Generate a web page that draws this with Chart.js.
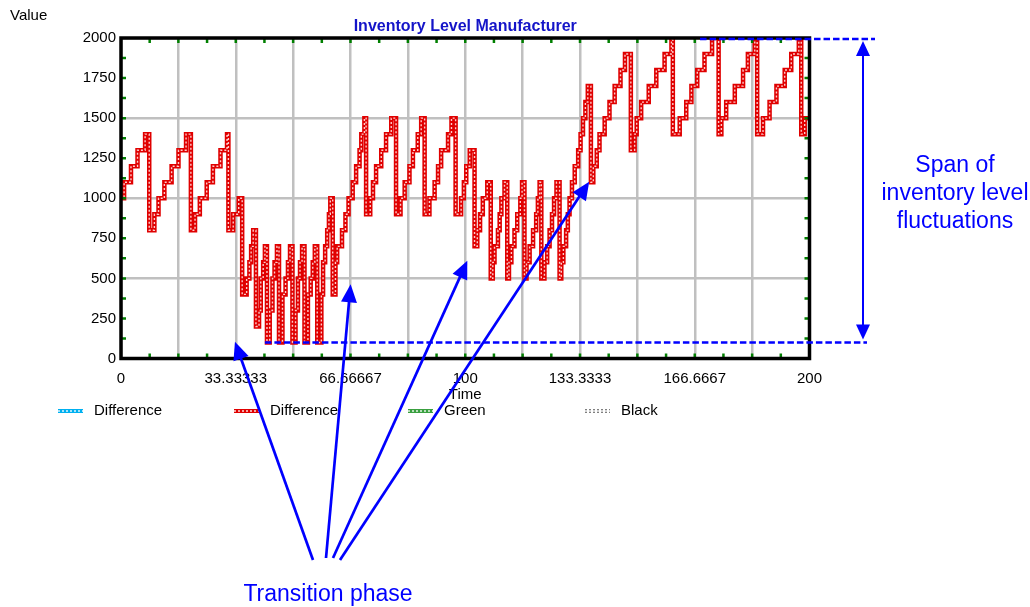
<!DOCTYPE html>
<html>
<head>
<meta charset="utf-8">
<script src="https://cdn.jsdelivr.net/npm/chart.js@4.4.1/dist/chart.umd.min.js"></script>
<style>
  html, body { margin: 0; padding: 0; background: #fff; }
</style>
</head>
<body>
<canvas id="myChart" width="1030" height="607"></canvas>
<script>
// time at which the inventory level steps to the new value
const time = [
  0, 0.9, 2.9, 4.8, 7.0, 8.2, 9.7, 10.9, 12.6, 14.7, 16.7, 18.9, 20.3, 21.5, 22.9, 24.9, 26.7, 28.9, 30.8, 31.2,
  32.6, 34.2, 35.2, 36.5, 37.3, 37.8, 38.4, 39.2, 40.1, 40.6, 41.3, 41.8, 42.4, 43.2, 44.0, 44.6, 45.3, 45.9,
  46.9, 47.8, 48.5, 49.1, 49.8, 50.7, 51.4, 52.0, 52.6, 53.3, 54.3, 55.1, 55.7, 56.3, 57.0, 58.2, 58.7, 59.3,
  59.9, 60.4, 60.8, 61.5, 62.3, 62.8, 64.2, 65.2, 66.1, 67.3, 68.3, 69.3, 69.8, 70.7, 71.2, 72.4, 73.2, 74.1,
  75.6, 77.0, 78.5, 79.9, 81.2, 82.4, 83.8, 84.8, 86.2, 87.2, 88.2, 89.6, 91.1, 92.1, 93.0, 95.0, 96.0, 97.2,
  98.8, 99.6, 100.3, 101.3, 102.7, 103.5, 104.3, 105.1, 106.4, 107.4, 108.0, 108.5, 109.5, 110.0, 110.5, 111.4,
  112.2, 112.7, 113.4, 114.3, 115.1, 116.0, 116.5, 117.2, 117.8, 118.7, 119.7, 120.6, 121.1, 121.6, 122.1,
  123.0, 123.8, 124.5, 125.2, 125.8, 126.5, 127.4, 127.9, 128.5, 129.3, 129.8, 130.3, 131.0, 131.8, 132.8,
  133.5, 134.2, 134.9, 135.6, 136.5, 137.2, 138.2, 139.0, 140.5, 141.9, 143.4, 145.1, 146.4, 148.1, 149.2,
  149.8, 151.1, 153.3, 155.5, 157.9, 159.9, 160.3, 162.3, 164.2, 165.7, 167.4, 169.5, 171.7, 173.6, 174.4,
  175.8, 178.3, 180.7, 182.1, 184.1, 184.8, 186.5, 188.4, 190.4, 192.8, 194.7, 196.9, 197.6, 198.6, 200
];
const inventory = [
  1000, 1100, 1200, 1300, 1400, 800, 900, 1000, 1100, 1200, 1300, 1400, 800, 900, 1000, 1100, 1200, 1300, 1400, 800,
  900, 1000, 400, 500, 600, 700, 800, 200, 300, 500, 600, 700, 100, 300, 500, 600, 700, 100,
  400, 500, 600, 700, 100, 300, 500, 600, 700, 100, 400, 500, 600, 700, 100, 400, 600, 700,
  800, 900, 1000, 400, 600, 700, 800, 900, 1000, 1100, 1200, 1300, 1400, 1500, 900, 1000, 1100, 1200,
  1300, 1400, 1500, 900, 1000, 1100, 1200, 1300, 1400, 1500, 900, 1000, 1100, 1200, 1300, 1400, 1500, 900,
  1000, 1100, 1200, 1300, 700, 800, 900, 1000, 1100, 500, 600, 700, 800, 900, 1000, 1100,
  500, 600, 700, 800, 900, 1000, 1100, 500, 600, 700, 800, 900, 1000, 1100, 500,
  600, 700, 800, 900, 1000, 1100, 500, 600, 700, 800, 900, 1000, 1100, 1200, 1300,
  1400, 1500, 1600, 1700, 1100, 1200, 1300, 1400, 1500, 1600, 1700, 1800, 1900, 1300, 1400,
  1500, 1600, 1700, 1800, 1900, 2000, 1400, 1500, 1600, 1700, 1800, 1900, 2000, 1400, 1500,
  1600, 1700, 1800, 1900, 2000, 1400, 1500, 1600, 1700, 1800, 1900, 2000, 1400, 1500, 1500
];

const xTickLabels = ['0', '33.33333', '66.66667', '100', '133.3333', '166.6667', '200'];
const yTickValues = [0, 250, 500, 750, 1000, 1250, 1500, 1750, 2000];

const legendNames = ['Difference', 'Difference', 'Green', 'Black'];
const legendColors = ['#00b0f0', '#e00000', '#3aa040', '#808080'];

// annotation: arrow tips in chart values [time, value], tails in pixels
const arrowTips = [[33.1, 105], [66.7, 463], [100.6, 610], [136.0, 1103]];
const arrowTails = [[313, 560], [326, 558], [333, 558], [340, 560]];
const spanLow = 100;
const spanHigh = 2000;

const FONT = '"Liberation Sans", Arial, sans-serif';
const BLUE = '#0000ff';

let points = [];
for (let i = 0; i < time.length; i++) {
  points.push({ x: time[i], y: inventory[i] });
}

function arrowHead(c, x1, y1, x2, y2, len, half) {
  let a = Math.atan2(y2 - y1, x2 - x1);
  c.beginPath();
  c.moveTo(x2, y2);
  c.lineTo(x2 - len * Math.cos(a) + half * Math.sin(a), y2 - len * Math.sin(a) - half * Math.cos(a));
  c.lineTo(x2 - len * Math.cos(a) - half * Math.sin(a), y2 - len * Math.sin(a) + half * Math.cos(a));
  c.closePath();
  c.fill();
}

function arrowLine(c, x1, y1, x2, y2, len, half) {
  let a = Math.atan2(y2 - y1, x2 - x1);
  c.beginPath();
  c.moveTo(x1, y1);
  c.lineTo(x2 - (len - 2) * Math.cos(a), y2 - (len - 2) * Math.sin(a));
  c.stroke();
  arrowHead(c, x1, y1, x2, y2, len, half);
}

const decor = {
  id: 'decor',
  afterDatasetsDraw(chart) {
    const c = chart.ctx;
    const a = chart.chartArea;
    const sx = chart.scales.x;
    const sy = chart.scales.y;
    c.save();
    // green minor ticks
    c.strokeStyle = '#008000';
    c.lineWidth = 2.5;
    c.beginPath();
    for (let k = 1; k < 24; k++) {
      let px = sx.getPixelForValue(k * 200 / 24);
      c.moveTo(px, a.top); c.lineTo(px, a.top + 5);
      c.moveTo(px, a.bottom); c.lineTo(px, a.bottom - 5);
    }
    for (let k = 1; k < 16; k++) {
      let py = sy.getPixelForValue(k * 125);
      c.moveTo(a.left, py); c.lineTo(a.left + 5, py);
      c.moveTo(a.right, py); c.lineTo(a.right - 5, py);
    }
    c.stroke();
    // frame
    c.strokeStyle = '#000';
    c.lineWidth = 3.5;
    c.strokeRect(a.left, a.top, a.right - a.left, a.bottom - a.top);
    c.restore();
  },
  afterDraw(chart) {
    const c = chart.ctx;
    const a = chart.chartArea;
    const sx = chart.scales.x;
    const sy = chart.scales.y;
    c.save();
    c.textBaseline = 'middle';

    c.fillStyle = '#000';
    c.font = '15px ' + FONT;
    c.textAlign = 'left';
    c.fillText('Value', 10, 16);
    c.textAlign = 'center';
    c.fillText('Time', (a.left + a.right) / 2, 395);

    c.fillStyle = '#1414c8';
    c.font = 'bold 16px ' + FONT;
    c.fillText('Inventory Level Manufacturer', (a.left + a.right) / 2, 27);

    // legend
    let iconX = [58, 234, 408, 585];
    c.textAlign = 'left';
    c.font = '15px ' + FONT;
    for (let i = 0; i < legendNames.length; i++) {
      c.lineWidth = 4;
      c.strokeStyle = legendColors[i];
      c.setLineDash(i === 3 ? [2, 2] : []);
      c.beginPath();
      c.moveTo(iconX[i], 411); c.lineTo(iconX[i] + 25, 411);
      c.stroke();
      c.strokeStyle = '#fff';
      c.lineWidth = 1.3;
      c.setLineDash([2, 2]);
      c.beginPath();
      c.moveTo(iconX[i], 411); c.lineTo(iconX[i] + 25, 411);
      c.stroke();
      c.setLineDash([]);
      c.fillStyle = '#000';
      c.fillText(legendNames[i], iconX[i] + 36, 411);
    }

    // span of fluctuations
    c.strokeStyle = BLUE;
    c.fillStyle = BLUE;
    c.lineWidth = 2.7;
    c.setLineDash([6.5, 3]);
    let yLow = sy.getPixelForValue(spanLow);
    let yHigh = sy.getPixelForValue(spanHigh);
    c.beginPath();
    c.moveTo(sx.getPixelForValue(41.8), yLow); c.lineTo(867, yLow);
    c.moveTo(sx.getPixelForValue(168.2), yHigh + 1); c.lineTo(875, yHigh + 1);
    c.stroke();
    c.setLineDash([]);
    c.lineWidth = 2;
    arrowLine(c, 863, 190, 863, yHigh + 3, 15, 7);
    arrowLine(c, 863, 190, 863, yLow - 3, 15, 7);
    c.font = '23px ' + FONT;
    c.textAlign = 'center';
    c.fillText('Span of', 955, 166);
    c.fillText('inventory level', 955, 194);
    c.fillText('fluctuations', 955, 222);

    // transition phase arrows
    c.lineWidth = 2.7;
    for (let i = 0; i < arrowTips.length; i++) {
      let tx = sx.getPixelForValue(arrowTips[i][0]);
      let ty = sy.getPixelForValue(arrowTips[i][1]);
      arrowLine(c, arrowTails[i][0], arrowTails[i][1], tx, ty, 18, 8);
    }
    c.fillText('Transition phase', 328, 595);
    c.restore();
  }
};

let ctx = document.getElementById('myChart');

let chart_temp = {
  type: 'line',
  data: {
    datasets: [{
      label: 'Difference',
      data: points,
      stepped: 'before',
      borderColor: '#e00000',
      borderWidth: 4.5,
      pointRadius: 0,
      order: 2
    }, {
      // lighter core to give the hollow-marker look of the original
      label: 'Difference core',
      data: points,
      stepped: 'before',
      borderColor: 'rgba(255,215,215,0.95)',
      borderWidth: 1.4,
      borderDash: [2, 2],
      pointRadius: 0,
      order: 1
    }]
  },
  options: {
    responsive: false,
    animation: false,
    events: [],
    layout: { padding: { top: 38, right: 220.5, left: 0, bottom: 0 } },
    plugins: {
      legend: { display: false },
      tooltip: { enabled: false }
    },
    scales: {
      x: {
        type: 'linear',
        min: 0,
        max: 200,
        afterBuildTicks: (s) => {
          s.ticks = [];
          for (let k = 0; k <= 12; k++) s.ticks.push({ value: k * 200 / 12 });
        },
        afterFit: (s) => { s.height = 607 - 358.5; },
        grid: { color: '#c0c0c0', lineWidth: 2.5, drawTicks: false },
        border: { display: false },
        ticks: {
          autoSkip: false,
          maxRotation: 0,
          padding: 11,
          color: '#000',
          font: { family: FONT, size: 15 },
          callback: (v, i) => (i % 2 === 0 ? xTickLabels[i / 2] : '')
        }
      },
      y: {
        min: 0,
        max: 2000,
        afterBuildTicks: (s) => {
          s.ticks = yTickValues.map(v => ({ value: v }));
        },
        afterFit: (s) => { s.width = 121; },
        grid: {
          color: (c) => (c.tick && c.tick.value % 500 === 0 ? '#c0c0c0' : 'rgba(0,0,0,0)'),
          lineWidth: 2.5,
          drawTicks: false
        },
        border: { display: false },
        ticks: {
          padding: 5,
          color: '#000',
          font: { family: FONT, size: 15 },
          callback: (v) => String(v)
        }
      }
    }
  },
  plugins: [decor]
};

const myChart = new Chart(ctx, chart_temp);
</script>
</body>
</html>
